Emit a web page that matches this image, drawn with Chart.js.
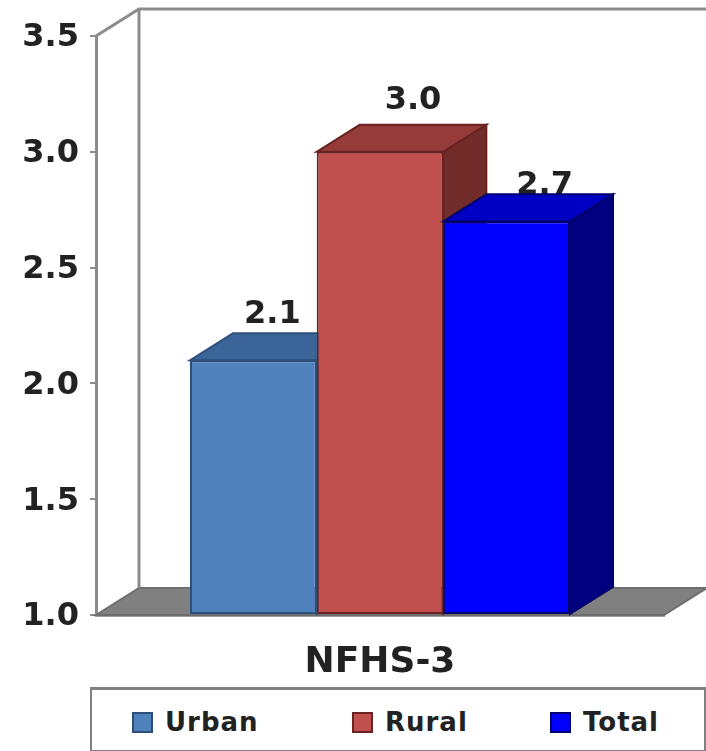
<!DOCTYPE html>
<html>
<head>
<meta charset="utf-8">
<title>NFHS-3</title>
<script src="https://cdn.jsdelivr.net/npm/chart.js@4/dist/chart.umd.min.js"></script>
<style>
  html, body { margin: 0; padding: 0; background: #fff; }
  #wrap { position: relative; width: 706px; height: 751px; overflow: hidden; filter: blur(0.6px); }
  #chart { position: absolute; left: 0; top: 0; }
  #legend {
    position: absolute; left: 90px; top: 687px; width: 612px; height: 60px;
    border: 2px solid #808080; border-top-width: 3px; background: #fff;
    font: bold 26px "DejaVu Sans", sans-serif; letter-spacing: 1px; color: #222;
  }
  .item { position: absolute; top: 18px; line-height: 28px; white-space: nowrap; }
  .swatch {
    position: absolute; top: 4px; left: 0; width: 21px; height: 21px; box-sizing: border-box;
    border: 2px solid;
  }
  .item span.txt { margin-left: 33px; }
</style>
</head>
<body>
<div id="wrap">
  <canvas id="chart" width="706" height="688"></canvas>
  <div id="legend"></div>
</div>
<script>
const categories = ['NFHS-3'];
const seriesNames = ['Urban', 'Rural', 'Total'];
const urbanValues = [2.1];
const ruralValues = [3.0];
const totalValues = [2.7];
const yMin = 1.0, yMax = 3.5, yStep = 0.5;

const FRONT  = ['#4f81bd', '#c0504d', '#0000ff'];
const TOP    = ['#3b6499', '#953b39', '#0000c4'];
const SIDE   = ['#2f5080', '#722c2a', '#000080'];
const EDGE   = ['#2c4f7c', '#6a2320', '#00006e'];

// depth of the fake 3D box
const DX = 43, DY = 27;
// where the value labels sit relative to the bar's top centre
const LABEL_DX = [19, 33, 38];
const LABEL_DY = [-46, -51, -36];
const LEGEND_LEFT = [40, 260, 458];

function poly(ctx, pts, fill, stroke, lw) {
  ctx.beginPath();
  pts.forEach((p, i) => i ? ctx.lineTo(p[0], p[1]) : ctx.moveTo(p[0], p[1]));
  ctx.closePath();
  if (fill) { ctx.fillStyle = fill; ctx.fill(); }
  if (stroke) { ctx.strokeStyle = stroke; ctx.lineWidth = lw || 2; ctx.stroke(); }
}

// ── back wall, floor, value labels, bars left to right ───────
const box3d = {
  id: 'box3d',
  beforeDatasetDraw() {
    return false; // bars are drawn below, so that the right one overlaps
  },
  beforeDatasetsDraw(chart) {
    const { ctx, chartArea: a } = chart;
    ctx.save();
    poly(ctx, [[a.left, a.bottom], [a.left + DX, a.bottom - DY], [a.right + DX, a.bottom - DY], [a.right, a.bottom]], '#808080', '#6e6e6e', 2);
    ctx.strokeStyle = '#8c8c8c';
    ctx.lineWidth = 3;
    ctx.beginPath();
    ctx.moveTo(a.left, a.top);
    ctx.lineTo(a.left + DX, a.top - DY);
    ctx.lineTo(a.right + DX, a.top - DY);
    ctx.moveTo(a.left + DX, a.top - DY);
    ctx.lineTo(a.left + DX, a.bottom - DY);
    ctx.stroke();

    ctx.fillStyle = '#222';
    ctx.font = 'bold 32px "DejaVu Sans"';
    ctx.textAlign = 'center';
    ctx.textBaseline = 'middle';
    chart.data.datasets.forEach((ds, i) => {
      const bar = chart.getDatasetMeta(i).data[0];
      ctx.fillText(ds.data[0].toFixed(1), bar.x + LABEL_DX[i], bar.y + LABEL_DY[i]);
    });
    ctx.restore();
  },
  afterDatasetsDraw(chart) {
    const { ctx } = chart;
    chart.data.datasets.forEach((ds, i) => {
      const meta = chart.getDatasetMeta(i);
      const bar = meta.data[0];
      const half = bar.width / 2;
      const l = bar.x - half, r = bar.x + half, t = bar.y, b = bar.base;
      ctx.save();
      poly(ctx, [[l, t], [l + DX, t - DY], [r + DX, t - DY], [r, t]], TOP[i], EDGE[i], 2);
      poly(ctx, [[r, t], [r + DX, t - DY], [r + DX, b - DY], [r, b]], SIDE[i], EDGE[i], 2);
      ctx.restore();
      meta.controller.draw();
    });
  }
};

new Chart(document.getElementById('chart'), {
  type: 'bar',
  data: {
    labels: categories,
    datasets: [
      { label: seriesNames[0], data: urbanValues },
      { label: seriesNames[1], data: ruralValues },
      { label: seriesNames[2], data: totalValues }
    ].map((d, i) => ({ ...d, base: yMin, backgroundColor: FRONT[i], borderColor: EDGE[i], borderWidth: 2, borderSkipped: false }))
  },
  options: {
    responsive: false,
    animation: false,
    events: [],
    layout: { padding: { top: 36, right: 42, left: 0, bottom: 0 } },
    datasets: { bar: { categoryPercentage: 0.669, barPercentage: 1 } },
    plugins: { legend: { display: false }, tooltip: { enabled: false } },
    scales: {
      x: {
        afterFit: s => { s.height = 73; },
        grid: { display: false },
        border: { display: true, color: '#9a9a9a', width: 3 },
        ticks: { color: '#222', padding: 18, font: { family: '"DejaVu Sans"', weight: 'bold', size: 36 } }
      },
      y: {
        min: yMin, max: yMax,
        afterFit: s => { s.width = 96; },
        grid: { drawOnChartArea: false, color: '#8c8c8c', tickLength: 6, lineWidth: 2 },
        border: { display: true, color: '#8c8c8c', width: 3 },
        ticks: {
          stepSize: yStep, color: '#222', padding: 11, labelOffset: 2,
          font: { family: '"DejaVu Sans"', weight: 'bold', size: 32 },
          callback: v => v.toFixed(1)
        }
      }
    }
  },
  plugins: [box3d]
});

// ── legend ───────────────────────────────────────────────────
document.getElementById('legend').innerHTML = seriesNames.map((name, i) => `
  <div class="item" style="left:${LEGEND_LEFT[i]}px">
    <div class="swatch" style="background:${FRONT[i]};border-color:${EDGE[i]}"></div><span class="txt">${name}</span>
  </div>`).join('');
</script>
</body>
</html>
